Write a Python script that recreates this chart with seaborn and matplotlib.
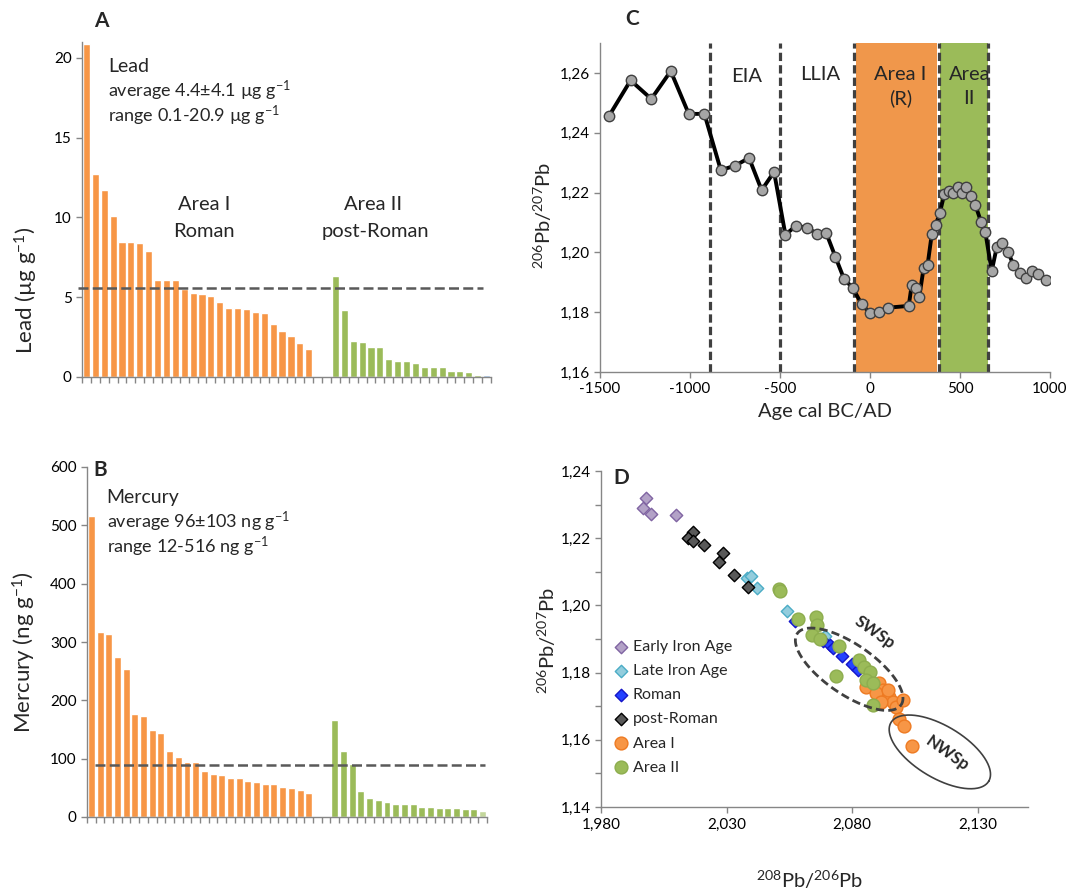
import numpy as np
import pandas as pd
import matplotlib
matplotlib.use('Agg')
import matplotlib.pyplot as plt
from matplotlib.ticker import FuncFormatter, MultipleLocator
import seaborn as sns

# ---- data ----
# A: lead (ug/g), sorted per area
lead_area1 = [20.9, 12.7, 11.7, 10.1, 8.45, 8.45, 8.4, 7.9, 6.1, 6.1, 6.05, 5.5, 5.25,
              5.2, 5.1, 4.7, 4.35, 4.35, 4.25, 4.05, 4.0, 3.3, 2.9, 2.55, 2.15, 1.75]
lead_area2 = [6.35, 4.2, 2.25, 2.2, 1.9, 1.85, 1.1, 1.0, 1.0, 0.9, 0.6, 0.6, 0.6,
              0.35, 0.35, 0.3, 0.15, 0.1]
lead_ref = 5.55

# B: mercury (ng/g)
hg_area1 = [516, 318, 314, 274, 254, 177, 174, 150, 144, 113, 103, 94, 94, 79, 74, 72,
            67, 67, 61, 60, 57, 56, 51, 50, 47, 42]
hg_area2 = [167, 114, 91, 44, 32, 29, 25, 23, 23, 22, 18, 17, 15, 15, 15, 14, 14, 10]
hg_ref = 89

# C: 206Pb/207Pb against age
age = [-1450, -1330, -1215, -1107, -1007, -920, -829, -748, -672, -602, -533, -470,
       -411, -352, -296, -244, -193, -144, -96, -46, 0, 50, 98, 215, 232, 256, 274,
       298, 320, 343, 365, 387, 413, 437, 463, 487, 511, 535, 561, 585, 617, 641,
       676, 704, 733, 768, 796, 833, 867, 900, 935, 978]
ratio = [1.2456, 1.2575, 1.2513, 1.2606, 1.2463, 1.2463, 1.2275, 1.2290, 1.2316,
         1.2208, 1.2269, 1.2059, 1.2089, 1.2083, 1.2063, 1.2066, 1.1986, 1.1911,
         1.1881, 1.1826, 1.1797, 1.1802, 1.1815, 1.1821, 1.1892, 1.1881, 1.1852,
         1.1948, 1.1958, 1.2060, 1.2092, 1.2130, 1.2195, 1.2206, 1.2200, 1.2217,
         1.2197, 1.2219, 1.2187, 1.2159, 1.2102, 1.2067, 1.1937, 1.2017, 1.2032,
         1.2000, 1.1959, 1.1932, 1.1915, 1.1939, 1.1928, 1.1909]
period_lines = [-890, -500, -90, 383, 657]
area1_span = (-78, 371)
area2_span = (389, 657)

# D: 208Pb/206Pb vs 206Pb/207Pb
eia_x = [1.9980, 1.9969, 2.0001, 2.0099]
eia_y = [1.2319, 1.2289, 1.2272, 1.2269]
lia_x = [2.0380, 2.0397, 2.0422, 2.0541, 2.0690]
lia_y = [1.2083, 1.2087, 1.2053, 1.1983, 1.1908]
rom_x = [2.0571, 2.0683, 2.0710, 2.0723, 2.0760, 2.0800, 2.0825]
rom_y = [1.1953, 1.1893, 1.1881, 1.1873, 1.1849, 1.1826, 1.1809]
post_x = [2.0168, 2.0145, 2.0165, 2.0210, 2.0287, 2.0268, 2.0329, 2.0387]
post_y = [1.2219, 1.2202, 1.2193, 1.2180, 1.2157, 1.2130, 1.2090, 1.2055]
a1_x = [2.0856, 2.0908, 2.0922, 2.0928, 2.0948, 2.0961, 2.0975, 2.1001, 2.0985,
        2.1008, 2.1037, 2.0895, 2.0942, 2.0915]
a1_y = [1.1758, 1.1769, 1.1747, 1.1733, 1.1726, 1.1713, 1.1698, 1.1718, 1.1663,
        1.1641, 1.1581, 1.1738, 1.1748, 1.1713]
a2_x = [2.0509, 2.0511, 2.0584, 2.0657, 2.0660, 2.0640, 2.0670, 2.0747, 2.0737,
        2.0829, 2.0849, 2.0869, 2.0856, 2.0882, 2.0882]
a2_y = [1.2050, 1.2042, 1.1961, 1.1966, 1.1941, 1.1913, 1.1901, 1.1879, 1.1789,
        1.1837, 1.1817, 1.1802, 1.1777, 1.1769, 1.1703]

# ---- style ----
sns.set_style('ticks')
plt.rcParams['font.family'] = ['Lato', 'DejaVu Sans']
plt.rcParams['mathtext.fontset'] = 'custom'
plt.rcParams['mathtext.rm'] = 'Lato'
plt.rcParams['mathtext.it'] = 'Lato:italic'
plt.rcParams['mathtext.bf'] = 'Lato:bold'

ORANGE = '#F79646'
GREEN = '#9BBB59'
AXC = '#868686'
TICK = 11

W, H = 1069, 889
fig = plt.figure(figsize=(W / 100, H / 100), dpi=100)


def box(l, t, r, b):
    return [l / W, 1 - b / H, (r - l) / W, (b - t) / H]


def fx(px):
    return px / W


def fy(py):
    return 1 - py / H


def tidy(ax):
    for s in ['top', 'right']:
        ax.spines[s].set_visible(False)
    for s in ['left', 'bottom']:
        ax.spines[s].set_color(AXC)
        ax.spines[s].set_linewidth(1)
    ax.tick_params(colors=AXC, labelcolor='black', labelsize=TICK, length=4, width=1)
    ax.set_xlabel('')
    ax.set_ylabel('')


axA = fig.add_axes(box(82, 42, 491, 377))
axB = fig.add_axes(box(87, 467, 487, 817))
axC = fig.add_axes(box(600, 43, 1050, 372))
axD = fig.add_axes(box(601, 471, 1028, 807))


def bars(ax, area1, area2, ref, lastcol, ref_from, ref_to):
    n1 = len(area1)
    ncat = n1 + 2 + len(area2)
    pos = list(range(n1)) + list(range(n1 + 2, ncat))
    grp = ['I'] * n1 + ['II'] * (len(area2) - 1) + ['last']
    df = pd.DataFrame({'pos': pos, 'val': area1 + area2, 'grp': grp})
    sns.barplot(data=df, x='pos', y='val', hue='grp', order=list(range(ncat)),
                palette={'I': ORANGE, 'II': GREEN, 'last': lastcol}, dodge=False,
                width=0.8, saturation=1, legend=False, ax=ax)
    ax.hlines(ref, ref_from, ref_to, colors='#595959', linestyles=(0, (4, 1.7)),
              lw=1.8, clip_on=False, zorder=5)
    ax.set_xlim(-0.5, ncat - 0.5)
    ax.set_xticks(np.arange(ncat + 1) - 0.5)
    ax.set_xticklabels([])
    tidy(ax)


# A
bars(axA, lead_area1, lead_area2, lead_ref, '#8DB4E2', -0.98, 44.6)
axA.set_ylim(0, 21)
axA.set_yticks([0, 5, 10, 15, 20])
fig.text(fx(108), fy(71.7), 'Lead', fontsize=14, va='baseline')
fig.text(fx(108), fy(96.7), 'average 4.4±4.1 µg g$^{-1}$', fontsize=13, va='baseline')
fig.text(fx(108), fy(121.7), 'range 0.1-20.9 µg g$^{-1}$', fontsize=13, va='baseline')
fig.text(fx(204), fy(210), 'Area I', fontsize=14.5, ha='center', va='baseline')
fig.text(fx(204), fy(237.3), 'Roman', fontsize=14.5, ha='center', va='baseline')
fig.text(fx(373.5), fy(210), 'Area II', fontsize=14.5, ha='center', va='baseline')
fig.text(fx(375), fy(237.3), 'post-Roman', fontsize=14.5, ha='center', va='baseline')
fig.text(fx(26), fy(290), 'Lead (µg g$^{-1}$)', fontsize=16, rotation=90,
         ha='center', va='center')
fig.text(fx(101), fy(21), 'A', fontsize=15, fontweight='bold', ha='center', va='center')

# B
bars(axB, hg_area1, hg_area2, hg_ref, '#C3D69B', 0.45, 45.3)
axB.set_ylim(0, 600)
axB.yaxis.set_major_locator(MultipleLocator(100))
fig.text(fx(106.7), fy(502.7), 'Mercury', fontsize=14, va='baseline')
fig.text(fx(106.7), fy(528.3), 'average 96±103 ng g$^{-1}$', fontsize=13, va='baseline')
fig.text(fx(106.7), fy(552.7), 'range 12-516 ng g$^{-1}$', fontsize=13, va='baseline')
fig.text(fx(24), fy(652), 'Mercury (ng g$^{-1}$)', fontsize=16, rotation=90,
         ha='center', va='center')
fig.text(fx(100), fy(470), 'B', fontsize=15, fontweight='bold', ha='center', va='center')

# C
axC.axvspan(*area1_span, color='#F0974B', lw=0, zorder=0)
axC.axvspan(*area2_span, color=GREEN, lw=0, zorder=0)
for xv in period_lines:
    axC.axvline(xv, color='#404040', lw=2.3, ls=(0, (2.6, 1.3)), zorder=1)
sns.lineplot(x=age, y=ratio, sort=False, color='black', lw=2.8, marker='o', ms=7.5,
             markerfacecolor='#A6A6A6', markeredgecolor='#404040', markeredgewidth=1,
             ax=axC, zorder=3)
axC.set_xlim(-1500, 1000)
axC.set_ylim(1.16, 1.27)
axC.set_xticks(np.arange(-1500, 1001, 500))
axC.set_yticks(np.arange(1.16, 1.261, 0.02))
axC.xaxis.set_major_formatter(FuncFormatter(lambda v, p: f'{v:.0f}'))
axC.yaxis.set_major_formatter(FuncFormatter(lambda v, p: f'{v:.2f}'.replace('.', ',')))
tidy(axC)
for txt, x, y in [('EIA', 746.7, 81.7), ('LLIA', 820, 80), ('Area I', 900, 80),
                  ('(R)', 900.7, 104), ('Area', 970, 80), ('II', 969.3, 104)]:
    fig.text(fx(x), fy(y), txt, fontsize=14.5, ha='center', va='baseline')
fig.text(fx(825), fy(412), 'Age cal BC/AD', fontsize=14.5, ha='center', va='center')
fig.text(fx(543), fy(215), '$^{206}$Pb/$^{207}$Pb', fontsize=14.5, rotation=90,
         ha='center', va='center')
fig.text(fx(632), fy(19), 'C', fontsize=15, fontweight='bold', ha='center', va='center')

# D
groups = {
    'Early Iron Age': (eia_x, eia_y),
    'Late Iron Age': (lia_x, lia_y),
    'Roman': (rom_x, rom_y),
    'post-Roman': (post_x, post_y),
    'Area I': (a1_x, a1_y),
    'Area II': (a2_x, a2_y),
}
looks = {
    'Early Iron Age': ('D', '#B3A2C7', '#8064A2', 40),
    'Late Iron Age': ('D', '#93CDDD', '#4BACC6', 40),
    'Roman': ('D', '#2442FF', '#1515C8', 40),
    'post-Roman': ('D', '#595959', '#000000', 40),
    'Area I': ('o', ORANGE, '#EE7A22', 85),
    'Area II': ('o', GREEN, '#8DAD4E', 85),
}
for name, (xs, ys) in groups.items():
    m, fc, ec, s = looks[name]
    sns.scatterplot(x=xs, y=ys, marker=m, s=s, color=fc, edgecolor=ec, linewidth=1,
                    label=name, ax=axD, zorder=3)
axD.set_xlim(1.98, 2.15)
axD.set_ylim(1.14, 1.24)
axD.set_xticks([1.98, 2.03, 2.08, 2.13])
axD.yaxis.set_major_locator(MultipleLocator(0.02))
axD.yaxis.set_minor_locator(MultipleLocator(0.01))
axD.xaxis.set_major_formatter(FuncFormatter(lambda v, p: f'{v:.3f}'.replace('.', ',')))
axD.yaxis.set_major_formatter(FuncFormatter(lambda v, p: f'{v:.2f}'.replace('.', ',')))
tidy(axD)
axD.tick_params(which='minor', length=4, color=AXC, width=1)
axD.legend(loc='upper left', bbox_to_anchor=(fx(616), fy(640)),
           bbox_transform=fig.transFigure, frameon=False, fontsize=11.5,
           handlelength=0.6, handletextpad=0.45, labelspacing=0.62,
           borderpad=0, borderaxespad=0)


def ellipse(ax, cx, cy, a, b, ang, **kw):
    # a, b in pixels, drawn through the axes' own scale
    pos = ax.get_position()
    x0, x1 = ax.get_xlim()
    y0, y1 = ax.get_ylim()
    sx = pos.width * W / (x1 - x0)
    sy = pos.height * H / (y1 - y0)
    t = np.linspace(0, 2 * np.pi, 300)
    th = np.radians(ang)
    dx = a * np.cos(t) * np.cos(th) - b * np.sin(t) * np.sin(th)
    dy = a * np.cos(t) * np.sin(th) + b * np.sin(t) * np.cos(th)
    ax.plot(cx + dx / sx, cy + dy / sy, zorder=4, **kw)


ellipse(axD, 2.0788, 1.1810, 63, 25, -34.5, color='#404040', lw=2,
        ls=(0, (3, 1.5)))
ellipse(axD, 2.1149, 1.1564, 57, 26, -31, color='#404040', lw=1.2)
axD.text(2.0889, 1.1920, 'SWSp', fontsize=12, fontweight='bold', rotation=-35,
         ha='center', va='center')
axD.text(2.1179, 1.1560, 'NWSp', fontsize=12, fontweight='bold', rotation=-35,
         ha='center', va='center')
fig.text(fx(810), fy(880), '$^{208}$Pb/$^{206}$Pb', fontsize=14.5, ha='center',
         va='center')
fig.text(fx(547), fy(640), '$^{206}$Pb/$^{207}$Pb', fontsize=14.5, rotation=90,
         ha='center', va='center')
fig.text(fx(621), fy(478), 'D', fontsize=15, fontweight='bold', ha='center', va='center')

fig.savefig('out.png', dpi=100)
